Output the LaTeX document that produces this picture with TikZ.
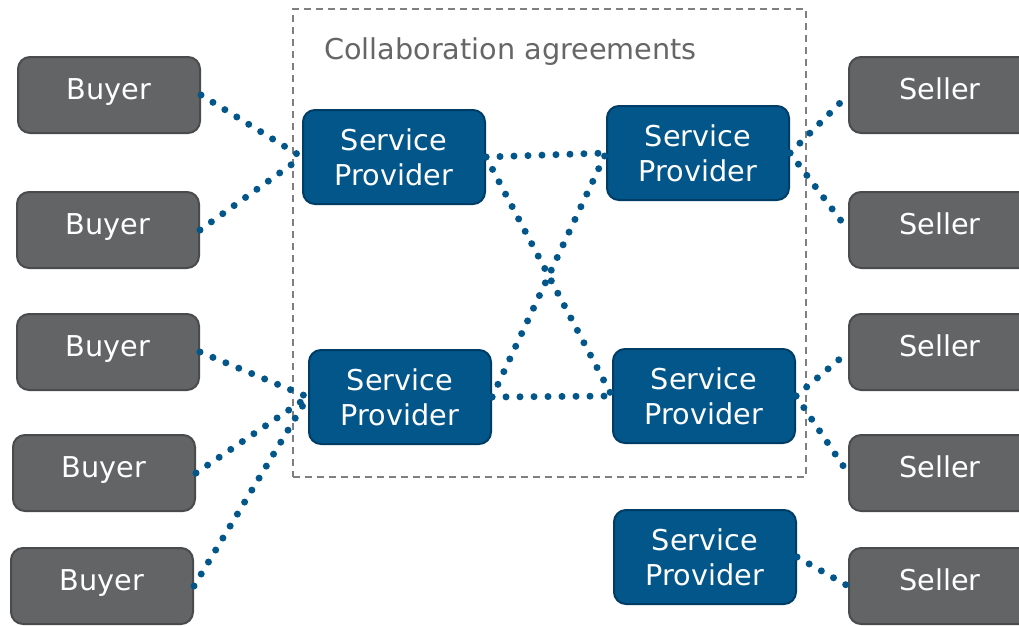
\documentclass[tikz,border=0pt]{standalone}
\usepackage{fontspec}
\setmainfont{DejaVu Sans}
\definecolor{boxgrey}{HTML}{636466}
\definecolor{boxgreyline}{HTML}{4A4B4D}
\definecolor{spblue}{HTML}{02568A}
\definecolor{spbluel}{HTML}{003D66}
\definecolor{titlegrey}{HTML}{666666}
\definecolor{frame}{HTML}{7F7F7F}
\begin{document}
\begin{tikzpicture}[x=1pt,y=-1pt,
  party/.style={draw=boxgreyline,fill=boxgrey,line width=2pt,rounded corners=12pt,
    minimum width=182pt,minimum height=76pt,inner sep=0pt,text=white,
    text height=21pt,text depth=12pt,
    font=\fontsize{28.7}{35}\selectfont},
  provider/.style={draw=spbluel,fill=spblue,line width=2pt,rounded corners=12pt,
    minimum width=182pt,minimum height=94pt,inner sep=0pt,text=white,align=center,
    font=\fontsize{28.7}{35}\selectfont},
  link/.style={draw=spblue,line width=7pt,line cap=round,dash pattern=on 0pt off 14pt}]
\clip (0,0) rectangle (1019,625);
\fill[white] (0,0) rectangle (1019,625);
% frame
\node[draw=frame,line width=1.6pt,dash pattern=on 7pt off 5pt,minimum width=513pt,minimum height=468pt,inner sep=0pt,anchor=north west] (frame) at (292,8) {};
\node[anchor=west,text=titlegrey,font=\fontsize{28.7}{35}\selectfont,inner sep=0pt] (title) at (324,52) {Collaboration agreements};
% buyers
\node[party] (b1) at (109,95) {Buyer};
\node[party] (b2) at (108,230) {Buyer};
\node[party] (b3) at (108,352) {Buyer};
\node[party] (b4) at (104,473) {Buyer};
\node[party] (b5) at (102,586) {Buyer};
% sellers
\node[party] (s1) at (940,95) {Seller};
\node[party] (s2) at (940,230) {Seller};
\node[party] (s3) at (940,352) {Seller};
\node[party] (s4) at (940,473) {Seller};
\node[party] (s5) at (940,586) {Seller};
% providers
\node[provider] (p1) at (394,157) {Service\\Provider};
\node[provider] (p2) at (698,153) {Service\\Provider};
\node[provider] (p3) at (400,397) {Service\\Provider};
\node[provider] (p4) at (704,396) {Service\\Provider};
\node[provider] (p5) at (705,557) {Service\\Provider};
% links
\draw[link] (b1.east) -- (p1.west);
\draw[link] (b2.east) -- (p1.west);
\draw[link] (b3.east) -- (p3.west);
\draw[link] (b4.east) -- (p3.west);
\draw[link] (b5.east) -- (p3.west);
\draw[link] (p1.east) -- (p2.west);
\draw[link] (p1.east) -- (p4.west);
\draw[link] (p3.east) -- (p2.west);
\draw[link] (p3.east) -- (p4.west);
\draw[link] (p2.east) -- (s1.west);
\draw[link] (p2.east) -- (s2.west);
\draw[link] (p4.east) -- (s3.west);
\draw[link] (p4.east) -- (s4.west);
\draw[link] (p5.east) -- (s5.west);
\end{tikzpicture}
\end{document}
